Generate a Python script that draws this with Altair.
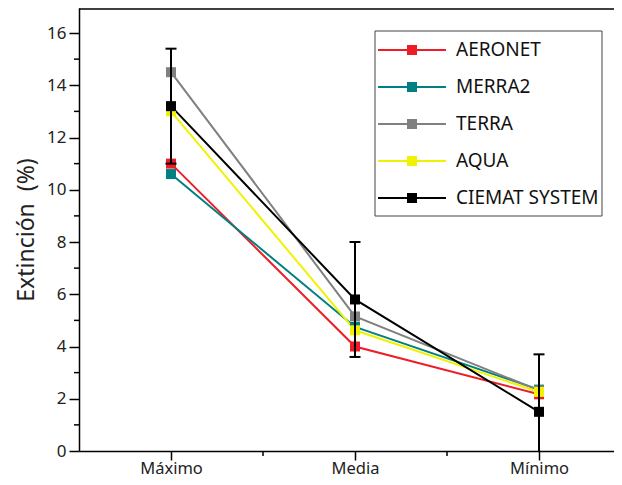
import altair as alt
import pandas as pd

categories = ["Máximo", "Media", "Mínimo"]
cat_pos = [1, 2, 3]
series = ["AERONET", "MERRA2", "TERRA", "AQUA", "CIEMAT SYSTEM"]
colors = ["#ee1c25", "#008080", "#808080", "#f2f200", "#000000"]
aeronet = [11.0, 4.0, 2.17]
merra2 = [10.6, 4.75, 2.35]
terra = [14.5, 5.15, 2.32]
aqua = [13.0, 4.62, 2.26]
ciemat = [13.2, 5.8, 1.5]
ciemat_err = [2.2, 2.2, 2.2]
y_major = [0, 2, 4, 6, 8, 10, 12, 14, 16]
y_minor = [1, 3, 5, 7, 9, 11, 13, 15]
x_minor = [1.5, 2.5]

FONT = "Noto Sans"
W, H = 535, 443
values = [aeronet, merra2, terra, aqua, ciemat]
rows = []
for s, vals in zip(series, values):
    for p, v in zip(cat_pos, vals):
        rows.append({"series": s, "pos": p, "value": v})
df = pd.DataFrame(rows)
df_err = pd.DataFrame({
    "pos": cat_pos,
    "lo": [v - e for v, e in zip(ciemat, ciemat_err)],
    "hi": [v + e for v, e in zip(ciemat, ciemat_err)],
})
df_leg = pd.DataFrame({"series": series})

xscale = alt.Scale(domain=[0.5, 0.5 + W / 184.0], nice=False, zero=False)
yscale = alt.Scale(domain=[0, 16.957], nice=False, zero=False)
cscale = alt.Scale(domain=series, range=colors)
leg_y = alt.Scale(type="point", domain=series, range=[42, 190], padding=0)

label_expr = " : ".join(
    f"datum.value == {p} ? '{c}'" for p, c in zip(cat_pos[:-1], categories[:-1])
) + f" : '{categories[-1]}'"

x_enc = alt.X("pos:Q", scale=xscale, axis=alt.Axis(
    values=cat_pos, labelExpr=label_expr, title=None, grid=False,
    tickSize=9, tickWidth=1.5, tickColor="black", domainColor="black",
    domainWidth=1.5, labelFont=FONT, labelFontSize=16.5, labelColor="#222",
    labelPadding=0, labelFlush=False))
y_enc = alt.Y("value:Q", scale=yscale, axis=alt.Axis(
    values=y_major, title="Extinción\u00a0\u00a0(%)", grid=False,
    tickSize=10, tickWidth=1.5, tickColor="black", domainColor="black",
    domainWidth=1.5, labelFont=FONT, labelFontSize=17, labelColor="#222",
    labelPadding=3, titleFont=FONT, titleFontSize=23, titleFontWeight="normal",
    titleColor="#222", titlePadding=8))

def yq(field):
    return alt.Y(field, scale=yscale, axis=None)

colr = alt.Color("series:N", scale=cscale, legend=None)

lines = alt.Chart(df).mark_line(strokeWidth=2, clip=True).encode(
    x=x_enc, y=y_enc, color=colr)
points = alt.Chart(df).mark_point(shape="square", filled=True, size=100,
                                  opacity=1, clip=True).encode(
    x=alt.X("pos:Q", scale=xscale), y=yq("value:Q"), color=colr)
err_v = alt.Chart(df_err).mark_rule(color="black", strokeWidth=2, clip=True).encode(
    x=alt.X("pos:Q", scale=xscale), y=yq("lo:Q"), y2="hi:Q")
cap_hi = alt.Chart(df_err).mark_rule(color="black", strokeWidth=2, clip=True,
                                     xOffset=-5.5, x2Offset=5.5).encode(
    x=alt.X("pos:Q", scale=xscale), x2="pos:Q", y=yq("hi:Q"))
cap_lo = alt.Chart(df_err).mark_rule(color="black", strokeWidth=2, clip=True,
                                     xOffset=-5.5, x2Offset=5.5).encode(
    x=alt.X("pos:Q", scale=xscale), x2="pos:Q", y=yq("lo:Q"))

ymin = alt.Chart(pd.DataFrame({"v": y_minor})).mark_rule(
    color="black", strokeWidth=1.5).encode(
    y=yq("v:Q"), x=alt.value(-5), x2=alt.value(0))
xmin = alt.Chart(pd.DataFrame({"v": x_minor})).mark_rule(
    color="black", strokeWidth=1.5).encode(
    x=alt.X("v:Q", scale=xscale), y=alt.value(H), y2=alt.value(H + 5))
top = alt.Chart(pd.DataFrame({"v": [0]})).mark_rule(
    color="black", strokeWidth=1.5).encode(
    y=alt.value(1), x=alt.value(0), x2=alt.value(W))

# legend
leg_box = alt.Chart(pd.DataFrame({"v": [0]})).mark_rect(
    fill="white", stroke="#444", strokeWidth=1).encode(
    x=alt.value(296), x2=alt.value(523), y=alt.value(23), y2=alt.value(208))
ly = alt.Y("series:N", scale=leg_y, axis=None)
leg_line = alt.Chart(df_leg).mark_rule(strokeWidth=2).encode(
    y=ly, x=alt.value(299), x2=alt.value(367), color=colr)
leg_sq = alt.Chart(df_leg).mark_point(shape="square", filled=True, size=100,
                                      opacity=1).encode(
    y=ly, x=alt.value(333), color=colr)
leg_txt = alt.Chart(df_leg).mark_text(
    align="left", baseline="middle", font=FONT, fontSize=19, color="#111").encode(
    y=ly, x=alt.value(377), text="series:N")

chart = alt.layer(lines, points, err_v, cap_hi, cap_lo, ymin, xmin, top,
                  leg_box, leg_line, leg_sq, leg_txt).resolve_scale(
    y="independent").properties(
    width=W, height=H,
    autosize=alt.AutoSizeParams(type="none"),
    padding={"left": 71, "top": 0, "right": 0, "bottom": 26},
    background="white",
).configure_view(stroke=None)

chart.save("out.html", embed_options={"renderer": "svg", "actions": False})
